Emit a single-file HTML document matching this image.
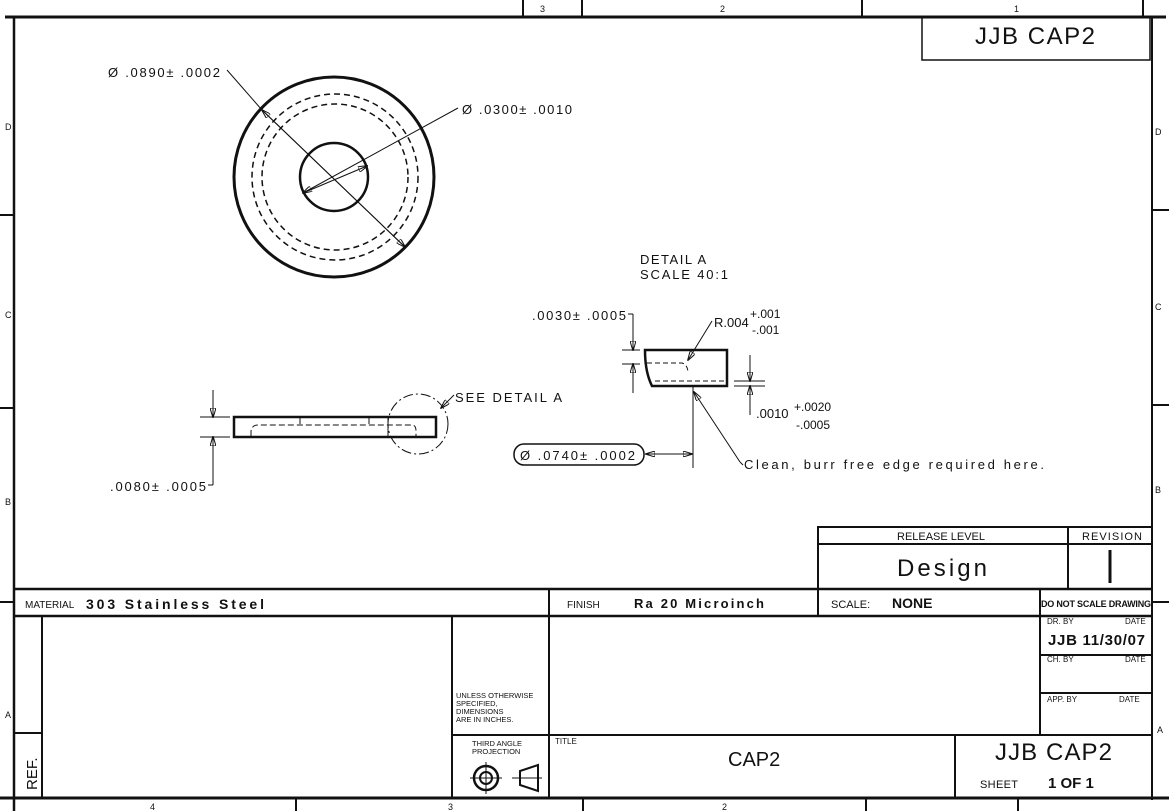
<!DOCTYPE html>
<html><head><meta charset="utf-8"><style>
body{margin:0;background:#fff}
svg{display:block}
text{font-family:"Liberation Sans",sans-serif;fill:#111}
</style></head><body>
<svg width="1169" height="811" viewBox="0 0 1169 811" xmlns="http://www.w3.org/2000/svg">
<defs><marker id="a" markerWidth="10" markerHeight="6" refX="9" refY="3" orient="auto"><path d="M0,0 L10,3 L0,6 z" fill="none" stroke="#111" stroke-width="1"/></marker></defs>
<g stroke="#111" fill="none">
<line x1="5" y1="17" x2="1166" y2="17" stroke-width="3"/>
<line x1="14" y1="17" x2="14" y2="811" stroke-width="2.5"/>
<line x1="1152" y1="17" x2="1152" y2="800" stroke-width="2"/>
<line x1="0" y1="798" x2="1169" y2="798" stroke-width="3"/>
<line x1="523" y1="0" x2="523" y2="17" stroke-width="2"/><line x1="582" y1="0" x2="582" y2="17" stroke-width="2"/>
<line x1="862" y1="0" x2="862" y2="17" stroke-width="2"/><line x1="1143" y1="0" x2="1143" y2="17" stroke-width="2"/>
<line x1="296" y1="798" x2="296" y2="811" stroke-width="2"/><line x1="583" y1="798" x2="583" y2="811" stroke-width="2"/>
<line x1="866" y1="798" x2="866" y2="811" stroke-width="2"/><line x1="1018" y1="798" x2="1018" y2="811" stroke-width="2"/>
<line x1="0" y1="215" x2="14" y2="215" stroke-width="2"/><line x1="0" y1="408" x2="14" y2="408" stroke-width="2"/><line x1="0" y1="602" x2="14" y2="602" stroke-width="2"/>
<line x1="1152" y1="210" x2="1169" y2="210" stroke-width="2"/><line x1="1152" y1="405" x2="1169" y2="405" stroke-width="2"/><line x1="1152" y1="602" x2="1169" y2="602" stroke-width="2"/>
<rect x="922" y="17" width="228" height="43" stroke-width="1.5"/>
<rect x="818" y="527" width="334" height="62" stroke-width="2"/>
<line x1="818" y1="544" x2="1152" y2="544" stroke-width="2"/>
<line x1="1068" y1="527" x2="1068" y2="589" stroke-width="2"/>
<line x1="14" y1="589" x2="1152" y2="589" stroke-width="2.5"/>
<line x1="14" y1="616" x2="1152" y2="616" stroke-width="2.5"/>
<line x1="549" y1="589" x2="549" y2="798" stroke-width="2"/>
<line x1="818" y1="589" x2="818" y2="616" stroke-width="2"/>
<line x1="1040" y1="589" x2="1040" y2="735" stroke-width="2"/>
<line x1="1040" y1="655" x2="1152" y2="655" stroke-width="2"/>
<line x1="1040" y1="693" x2="1152" y2="693" stroke-width="2"/>
<line x1="42" y1="616" x2="42" y2="798" stroke-width="2"/>
<line x1="14" y1="733" x2="42" y2="733" stroke-width="2"/>
<line x1="452" y1="616" x2="452" y2="798" stroke-width="2"/>
<line x1="452" y1="735" x2="1152" y2="735" stroke-width="2"/>
<line x1="955" y1="735" x2="955" y2="798" stroke-width="2"/>
<circle cx="486" cy="778" r="12" stroke-width="2.5"/><circle cx="486" cy="778" r="6" stroke-width="2"/>
<line x1="470" y1="778" x2="502" y2="778"/><line x1="486" y1="762" x2="486" y2="794"/>
<path d="M520,771 L520,785 L538,791 L538,765 Z" stroke-width="2"/><line x1="512" y1="778" x2="542" y2="778"/>
<circle cx="334" cy="177" r="100" stroke-width="3"/>
<circle cx="335" cy="177" r="83" stroke-width="1.5" stroke-dasharray="6,4"/>
<circle cx="335" cy="177" r="73" stroke-width="1.5" stroke-dasharray="6,4"/>
<circle cx="334" cy="177" r="34" stroke-width="2.5"/>
<line x1="227" y1="70" x2="262" y2="110"/>
<line x1="262" y1="110" x2="405" y2="247" marker-end="url(#a)"/>
<line x1="405" y1="247" x2="262" y2="110" marker-end="url(#a)"/>
<line x1="458" y1="108" x2="303" y2="193" marker-end="url(#a)"/>
<line x1="303" y1="193" x2="367" y2="166" marker-end="url(#a)"/>
<rect x="234" y="417" width="202" height="20" stroke-width="2.5"/>
<path d="M251,436 L251,431 Q252,425 258,425 L412,425 Q416,425 416,431 L416,436" stroke-dasharray="6,3"/>
<line x1="300" y1="417" x2="300" y2="424"/><line x1="369" y1="417" x2="369" y2="424"/><line x1="388" y1="417" x2="388" y2="436"/>
<circle cx="418" cy="424" r="30" stroke-dasharray="10,3,2,3"/>
<line x1="200" y1="417" x2="230" y2="417"/><line x1="200" y1="437" x2="230" y2="437"/>
<line x1="213" y1="390" x2="213" y2="417" marker-end="url(#a)"/>
<line x1="213" y1="485" x2="213" y2="437" marker-end="url(#a)"/>
<line x1="208" y1="485" x2="213" y2="485"/>
<line x1="454" y1="395" x2="441" y2="408" marker-end="url(#a)"/>
<path d="M645,350 L727,350 L727,386 L652,386 Q645,372 645,350 Z" stroke-width="2.5"/>
<path d="M647,363 L682,363 Q688,365 688,373" stroke-dasharray="5,3"/>
<line x1="655" y1="381" x2="727" y2="381" stroke-dasharray="5,3"/>
<line x1="622" y1="350" x2="640" y2="350"/><line x1="622" y1="364" x2="640" y2="364"/>
<line x1="633" y1="314" x2="633" y2="350" marker-end="url(#a)"/><line x1="633" y1="393" x2="633" y2="364" marker-end="url(#a)"/>
<line x1="628" y1="314" x2="633" y2="314"/>
<line x1="712" y1="321" x2="688" y2="360" marker-end="url(#a)"/>
<line x1="734" y1="381" x2="765" y2="381"/><line x1="734" y1="386" x2="765" y2="386"/>
<line x1="750" y1="355" x2="750" y2="381" marker-end="url(#a)"/><line x1="750" y1="415" x2="750" y2="386" marker-end="url(#a)"/>
<line x1="693" y1="386" x2="693" y2="468"/>
<line x1="740" y1="462" x2="694" y2="392" marker-end="url(#a)"/>
<line x1="740" y1="462" x2="743" y2="465"/>
<line x1="646" y1="454" x2="692" y2="454" marker-end="url(#a)"/>
<line x1="692" y1="454" x2="646" y2="454" marker-end="url(#a)"/>
<rect x="514" y="444" width="130" height="21" rx="10" stroke-width="1.5"/>
</g>
<g font-size="13">
<text x="540" y="12" font-size="9">3</text><text x="720" y="12" font-size="9">2</text><text x="1014" y="12" font-size="9">1</text>
<text x="150" y="810" font-size="9">4</text><text x="448" y="810" font-size="9">3</text><text x="722" y="810" font-size="9">2</text>
<text x="5" y="130" font-size="9">D</text><text x="5" y="318" font-size="9">C</text><text x="5" y="505" font-size="9">B</text><text x="5" y="718" font-size="9">A</text>
<text x="1155" y="135" font-size="9">D</text><text x="1155" y="310" font-size="9">C</text><text x="1155" y="493" font-size="9">B</text><text x="1157" y="733" font-size="9">A</text>
<text x="975" y="44" font-size="24" textLength="120">JJB CAP2</text>
<text x="108" y="77" textLength="112">Ø .0890± .0002</text>
<text x="462" y="114" textLength="110">Ø .0300± .0010</text>
<text x="640" y="264" letter-spacing="1.5">DETAIL  A</text>
<text x="640" y="279" textLength="88">SCALE  40:1</text>
<text x="532" y="320" textLength="94">.0030± .0005</text>
<text x="714" y="327">R.004</text><text x="750" y="318" font-size="12">+.001</text><text x="752" y="334" font-size="12">-.001</text>
<text x="756" y="418">.0010</text><text x="794" y="411" font-size="12">+.0020</text><text x="796" y="429" font-size="12">-.0005</text>
<text x="520" y="460" textLength="115">Ø .0740± .0002</text>
<text x="744" y="469" textLength="300">Clean, burr free edge required here.</text>
<text x="455" y="402" textLength="107">SEE DETAIL  A</text>
<text x="110" y="491" textLength="96">.0080± .0005</text>
<text x="897" y="540" font-size="11" textLength="88">RELEASE LEVEL</text>
<text x="1082" y="540" font-size="11" textLength="60">REVISION</text>
<text x="897" y="576" font-size="24" textLength="90">Design</text>
<line x1="1110" y1="550" x2="1110" y2="583" stroke="#111" stroke-width="3"/>
<text x="25" y="608" font-size="10">MATERIAL</text>
<text x="86" y="609" font-size="14" font-weight="bold" textLength="178">303 Stainless Steel</text>
<text x="567" y="608" font-size="10">FINISH</text>
<text x="634" y="608" font-size="13" font-weight="bold" textLength="130">Ra 20 Microinch</text>
<text x="831" y="608" font-size="11">SCALE:</text>
<text x="892" y="608" font-size="14" font-weight="bold">NONE</text>
<text x="1041" y="607" font-size="9" font-weight="bold" textLength="110">DO NOT SCALE DRAWING</text>
<text x="1047" y="624" font-size="8">DR. BY</text><text x="1125" y="624" font-size="8">DATE</text>
<text x="1048" y="645" font-size="15" font-weight="bold" textLength="97">JJB 11/30/07</text>
<text x="1047" y="662" font-size="8">CH. BY</text><text x="1125" y="662" font-size="8">DATE</text>
<text x="1047" y="702" font-size="8">APP. BY</text><text x="1119" y="702" font-size="8">DATE</text>
<text x="456" y="698" font-size="7.5">UNLESS OTHERWISE</text>
<text x="456" y="706" font-size="7.5">SPECIFIED,</text>
<text x="456" y="714" font-size="7.5">DIMENSIONS</text>
<text x="456" y="722" font-size="7.5">ARE IN INCHES.</text>
<text x="472" y="746" font-size="7.5">THIRD ANGLE</text>
<text x="472" y="754" font-size="7.5">PROJECTION</text>
<text x="555" y="744" font-size="8">TITLE</text>
<text x="728" y="766" font-size="20">CAP2</text>
<text x="995" y="760" font-size="24" textLength="117">JJB CAP2</text>
<text x="980" y="788" font-size="11" textLength="38">SHEET</text>
<text x="1048" y="788" font-size="15" font-weight="bold">1 OF 1</text>
<text transform="translate(37,790) rotate(-90)" font-size="15">REF.</text>
</g>
</svg>
</body></html>
